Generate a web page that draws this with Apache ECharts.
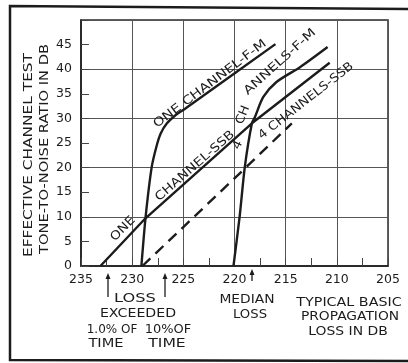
<!DOCTYPE html>
<html><head><meta charset="utf-8">
<script src="https://cdn.jsdelivr.net/npm/echarts@6/dist/echarts.min.js"></script>
<style>html,body{margin:0;padding:0;background:#fff}#c{width:408px;height:363px}</style>
</head><body><div id="c"></div>
<script>
// ---- data (typical basic propagation loss in dB, tone-to-noise ratio in dB) ----
const xTickLabels = [235, 230, 225, 220, 215, 210, 205];
const yTickLabels = [0, 5, 10, 15, 20, 25, 30, 35, 40, 45];
const oneChannelSSB = [[233.1, 0], [228.7, 9.7], [218.3, 29.0], [210.7, 41.3]];
const oneChannelFM = [[229.1, 0], [228.7, 9.7], [228.1, 20], [227.6, 24.5], [227.2, 27], [226.6, 29], [225.8, 30.6], [224.8, 32], [216.0, 45.1]];
const fourChannelsFM = [[220.1, 0], [219.5, 10], [219.0, 20], [218.3, 29.0], [218.0, 30.3], [217.2, 34.3], [215.9, 37.4], [213.6, 40.4], [210.9, 44.5]];
const fourChannelsSSB = [[229.0, 0], [219.0, 19.8], [214.4, 29.0]];

const INK = '#1c1c1c';
const FONT = 'DejaVu Sans';
const chart = echarts.init(document.getElementById('c'), null, {renderer: 'canvas'});

function txt(x, y, text, rotDeg, sx) {
  return {
    type: 'text', x: x, y: y, rotation: (rotDeg || 0) * Math.PI / 180,
    scaleX: sx || 1.18, z: 10,
    style: {text: text, font: '12px "' + FONT + '"', fill: INK, align: 'center', verticalAlign: 'middle'}
  };
}
function arrow(x, y1, y2) {
  return [
    {type: 'line', shape: {x1: x, y1: y1 + 4, x2: x, y2: y2}, style: {stroke: INK, lineWidth: 1.3}, z: 10},
    {type: 'polygon', shape: {points: [[x, y1], [x - 2.5, y1 + 6], [x + 2.5, y1 + 6]]}, style: {fill: INK}, z: 10}
  ];
}

const line = {type: 'line', showSymbol: false, xAxisIndex: 0, yAxisIndex: 0, animation: false};

chart.setOption({
  backgroundColor: '#fff',
  animation: false,
  grid: {left: 81, right: 20, top: 20, bottom: 97, show: true, borderColor: '#2a2a2a', borderWidth: 1.5, containLabel: false},
  xAxis: [{
    type: 'value', inverse: true, min: 205, max: 235, interval: 5,
    axisLine: {lineStyle: {color: INK, width: 1.5}},
    axisTick: {show: true, inside: true, length: 8, lineStyle: {color: '#444'}},
    minorTick: {show: true, splitNumber: 2, length: 8, lineStyle: {color: '#444', width: 1}},
    splitLine: {show: true, lineStyle: {color: '#555', width: 1}},
    axisLabel: {margin: 7, color: INK, fontFamily: FONT, fontSize: 12.5,
      formatter: v => xTickLabels.indexOf(v) >= 0 ? String(v) : ''}
  }],
  yAxis: [{
    type: 'value', min: 0, max: 50, interval: 5,
    axisLine: {show: true, lineStyle: {color: INK, width: 1.5}},
    axisTick: {show: true, inside: true, length: 8, lineStyle: {color: '#444'}},
    splitLine: {show: false},
    axisLabel: {margin: 9, color: INK, fontFamily: FONT, fontSize: 12.5,
      formatter: v => yTickLabels.indexOf(v) >= 0 ? String(v) : ''}
  }, {
    type: 'value', min: 0, max: 50, interval: 10, position: 'left',
    axisLine: {show: false}, axisTick: {show: false}, axisLabel: {show: false},
    splitLine: {show: true, lineStyle: {color: '#555', width: 1}}
  }],
  series: [
    Object.assign({}, line, {name: 'ONE CHANNEL-SSB', data: oneChannelSSB, lineStyle: {color: INK, width: 2.4}}),
    Object.assign({}, line, {name: 'ONE CHANNEL-F-M', data: oneChannelFM, smooth: 0.2, lineStyle: {color: INK, width: 2.4}}),
    Object.assign({}, line, {name: '4 CHANNELS-F-M', data: fourChannelsFM, smooth: 0.25, lineStyle: {color: INK, width: 2.4}}),
    Object.assign({}, line, {name: '4 CHANNELS-SSB', data: fourChannelsSSB, lineStyle: {color: INK, width: 2.4, type: [11, 7]}})
  ],
  graphic: [
    {type: 'polyline', shape: {points: [[408, 9], [10, 6], [10, 360], [408, 361]]}, style: {stroke: INK, lineWidth: 2.5, fill: null}, z: 5},
    txt(29, 155, 'EFFECTIVE CHANNEL TEST', 90, 1.28),
    txt(45, 149, 'TONE-TO-NOISE RATIO IN DB', 90, 1.22),
    txt(210, 84, 'ONE CHANNEL-F-M', 37, 1.22),
    txt(123, 229, 'ONE', 45, 1.15),
    txt(195, 166, 'CHANNEL-SSB', 41, 1.18),
    txt(238, 145, '4', 65, 1.1),
    txt(243, 115, 'CH', 68, 1.1),
    txt(280, 62, 'ANNELS-F-M', 42, 1.25),
    txt(306, 101, '4 CHANNELS-SSB', 38, 1.12),
    txt(135, 299, 'LOSS', 0, 1.35),
    txt(138, 314, 'EXCEEDED', 0, 1.18),
    txt(112, 330, '1.0% OF', 0, 1.0),
    txt(168, 330, '10%OF', 0, 1.08),
    txt(106, 344, 'TIME', 0, 1.22),
    txt(167, 344, 'TIME', 0, 1.3),
    txt(247, 300, 'MEDIAN', 0, 1.15),
    txt(250, 315, 'LOSS', 0, 1.1),
    txt(349, 303, 'TYPICAL BASIC', 0, 1.19),
    txt(350, 317, 'PROPAGATION', 0, 1.15),
    txt(348, 332, 'LOSS IN DB', 0, 1.16)
  ].concat(arrow(108, 273, 297), arrow(165, 273, 297), arrow(252, 269, 281))
});
</script></body></html>
